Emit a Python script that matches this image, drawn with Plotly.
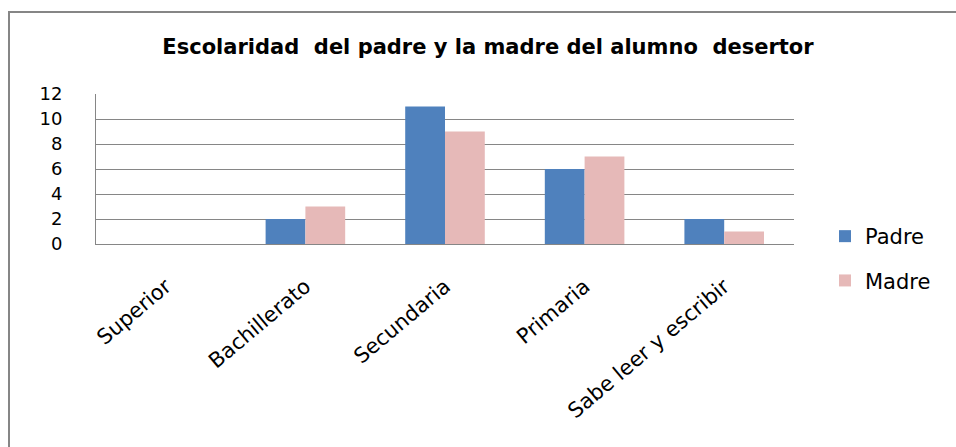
import plotly.graph_objects as go

categories = ["Superior", "Bachillerato", "Secundaria", "Primaria", "Sabe leer y escribir"]
padre = [0, 2, 11, 6, 2]
madre = [0, 3, 9, 7, 1]
y_ticks = [0, 2, 4, 6, 8, 10, 12]

FONT = "DejaVu Sans"
GRID = "#868686"

fig = go.Figure()
fig.add_trace(go.Bar(name="Padre", x=categories, y=padre, marker=dict(color="#4F81BD", line=dict(width=0)),
                     legendgroup="a"))
fig.add_trace(go.Bar(name="Madre", x=categories, y=madre, marker=dict(color="#E6B9B8", line=dict(width=0)),
                     legendgroup="b"))

L, R, T, B = 96, 162, 94, 203
W, H = 956, 447
pw, ph = W - L - R, H - T - B

def px_x(x):
    return (x - L) / pw

def px_y(y):
    return (H - B - y) / ph

fig.update_layout(
    width=W, height=H,
    margin=dict(l=L, r=R, t=T, b=B, autoexpand=False),
    paper_bgcolor="white", plot_bgcolor="white",
    barmode="group", bargap=0.43, bargroupgap=0,
    font=dict(family=FONT, color="black"),
    title=dict(text="<b>Escolaridad  del padre y la madre del alumno  desertor</b>",
               x=488 / W, xanchor="center", y=1 - 47 / H, yanchor="middle", yref="container",
               font=dict(size=21, family=FONT, color="black")),
    legend=dict(x=px_x(825), xanchor="left", y=px_y(216), yanchor="top",
                font=dict(size=21, family=FONT, color="black"),
                tracegroupgap=14, traceorder="grouped", bgcolor="rgba(0,0,0,0)"),
    xaxis=dict(tickangle=-40, tickfont=dict(size=21, family=FONT), showline=True, linecolor=GRID,
               linewidth=1, showgrid=False, ticks="", ticklabelstandoff=21),
    yaxis=dict(range=[0, 12], tickvals=y_ticks, tickfont=dict(size=18, family=FONT), showline=True,
               linecolor=GRID, linewidth=1, showgrid=True, gridcolor=GRID, gridwidth=1,
               zeroline=False, ticks="", ticklabelstandoff=29),
    shapes=[dict(type="rect", xref="paper", yref="paper",
                 x0=px_x(9), x1=px_x(962), y0=px_y(455), y1=px_y(12),
                 line=dict(color=GRID, width=2), fillcolor="rgba(0,0,0,0)", layer="below")],
)

fig.write_html("out.html", config={"displayModeBar": False},
               post_script="document.body.style.margin='0px';")
